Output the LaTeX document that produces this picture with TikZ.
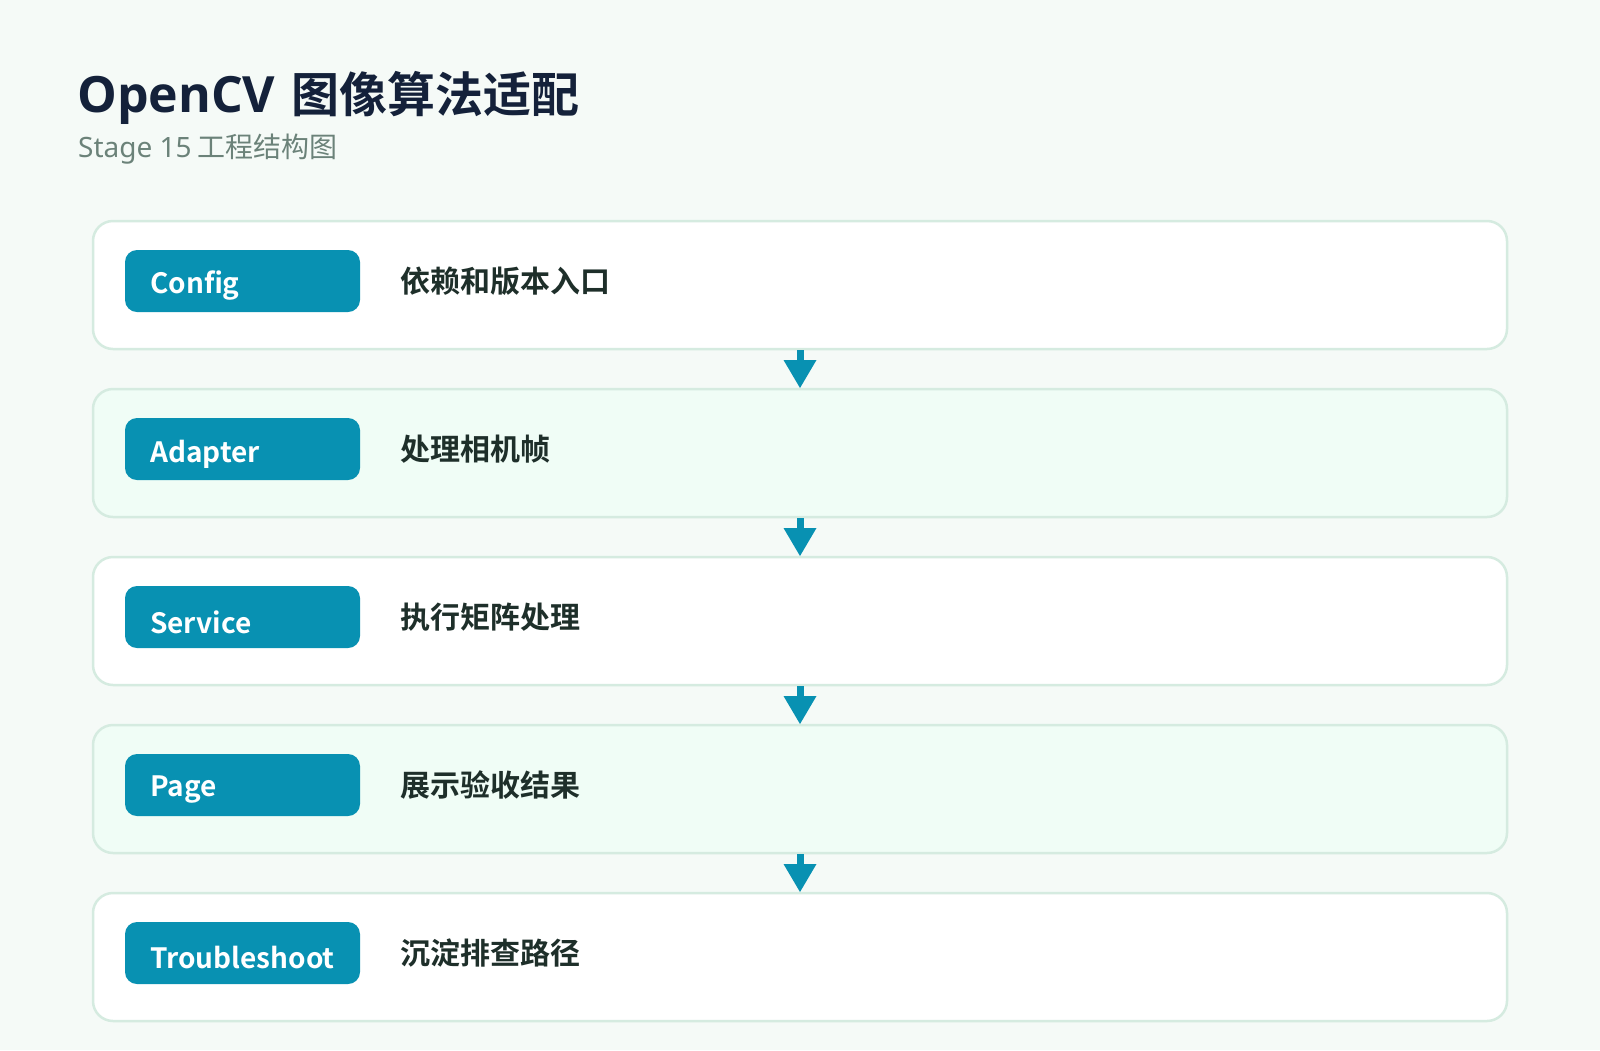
\documentclass[tikz,border=0pt]{standalone}
\usepackage{fontspec}
\usetikzlibrary{calc}
\setmainfont{Noto Sans CJK SC}
\newfontfamily\cjkb{Noto Sans CJK SC Bold}
\newfontfamily\latn{Noto Sans}
\newfontfamily\latnb{Open Sans}
\definecolor{bgc}{HTML}{F5FAF7}
\definecolor{cardline}{HTML}{D5EBE0}
\definecolor{mint}{HTML}{F0FDF6}
\definecolor{pillc}{HTML}{0891B2}
\definecolor{titlec}{HTML}{14213A}
\definecolor{subc}{HTML}{6B8279}
\definecolor{rowtext}{HTML}{1E2F2A}
\begin{document}
\begin{tikzpicture}[x=1pt,y=-1pt,
  card/.style={draw=cardline,line width=2.5pt,rounded corners=20pt},
  pill/.style={fill=pillc,rounded corners=12pt},
  pilltext/.style={anchor=west,inner sep=0pt,text=white,font=\cjkb\fontsize{28}{30}\selectfont},
  rowlabel/.style={anchor=west,inner sep=0pt,text=rowtext,font=\cjkb\fontsize{30}{32}\selectfont}]
\fill[bgc] (0,0) rectangle (1600,1050);
\useasboundingbox (0,0) rectangle (1600,1050);
\node[anchor=base west,inner sep=0pt,text=titlec,font=\cjkb\fontsize{48}{52}\selectfont] (title) at (77,112) {{\latnb\bfseries\fontsize{50}{52}\selectfont OpenCV}\hspace{5pt} 图像算法适配};
\node[anchor=base west,inner sep=0pt,text=subc,font=\fontsize{28}{30}\selectfont] (subtitle) at (78,157) {{\latn Stage 15} 工程结构图};
\foreach \i/\lab/\desc/\fc in {0/Config/依赖和版本入口/white,1/Adapter/处理相机帧/mint,2/Service/执行矩阵处理/white,3/Page/展示验收结果/mint,4/Troubleshoot/沉淀排查路径/white}{
  \pgfmathsetmacro{\top}{221+168*\i}
  \path[card,fill=\fc] (93,\top) rectangle (1507,\top+128);
  \coordinate (cb\i) at (800,\top+128);
  \coordinate (ct\i) at (800,\top);
  \path[pill] (125,\top+29) rectangle (360,\top+91);
  \node[pilltext] (p\i) at (150,\top+65) {\lab};
  \node[rowlabel] (d\i) at (400,\top+60) {\desc};
}
\foreach \i [evaluate=\i as \j using int(\i+1)] in {0,1,2,3}{
  \fill[pillc] ($(cb\i)+(-3.5,1)$) rectangle ($(cb\i)+(3.5,13)$);
  \fill[pillc] ($(cb\i)+(-16.5,11)$) -- ($(cb\i)+(16.5,11)$) -- ($(ct\j)+(0,-1)$) -- cycle;
}
\end{tikzpicture}
\end{document}
